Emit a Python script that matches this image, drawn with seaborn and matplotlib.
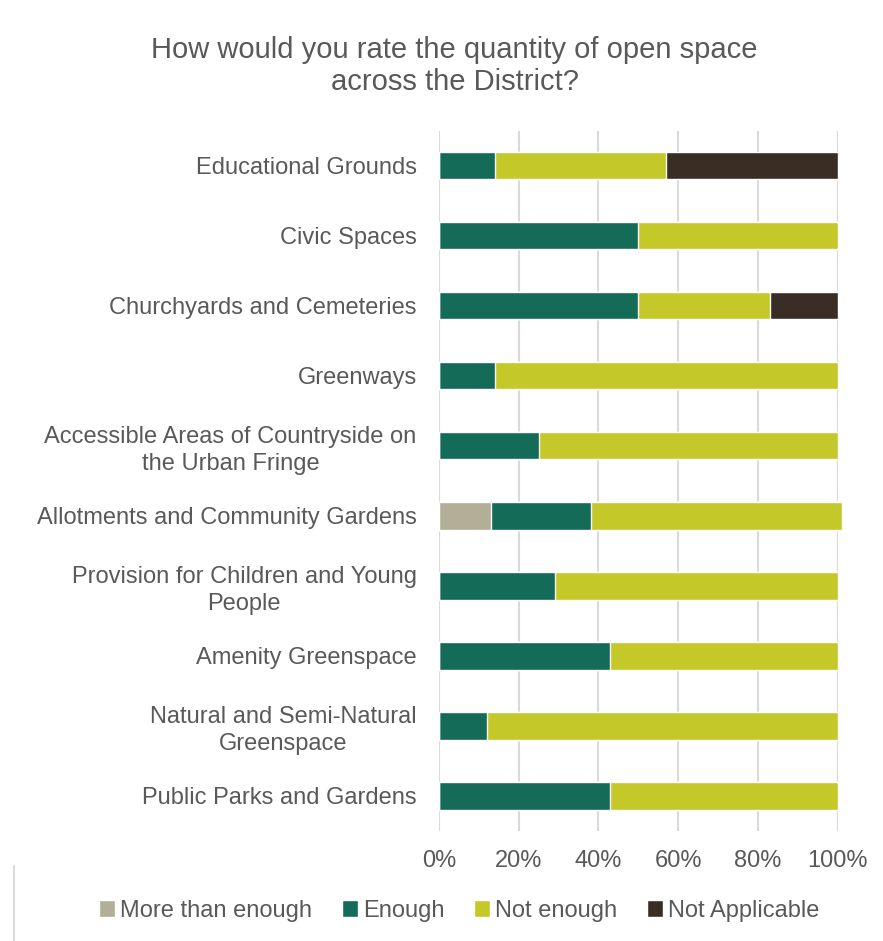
import pandas as pd
import seaborn as sns
import matplotlib.pyplot as plt
from matplotlib.patches import Patch
from matplotlib.ticker import PercentFormatter

# Dados
categorias = ['Educational Grounds', 'Civic Spaces', 'Churchyards and Cemeteries', 'Greenways',
              'Accessible Areas of Countryside on\nthe Urban Fringe', 'Allotments and Community Gardens',
              'Provision for Children and Young\nPeople', 'Amenity Greenspace',
              'Natural and Semi-Natural\nGreenspace', 'Public Parks and Gardens']
mais_que_suficiente = [0, 0, 0, 0, 0, 13, 0, 0, 0, 0]
suficiente = [14, 50, 50, 14, 25, 25, 29, 43, 12, 43]
insuficiente = [43, 50, 33, 86, 75, 63, 71, 57, 88, 57]
nao_aplicavel = [43, 0, 17, 0, 0, 0, 0, 0, 0, 0]

series = ['More than enough', 'Enough', 'Not enough', 'Not Applicable']
cores = ['#B3AE98', '#136B58', '#C4C828', '#3A2D24']
cinza = '#595959'

df = pd.DataFrame({'Categoria': categorias, 'More than enough': mais_que_suficiente,
                   'Enough': suficiente, 'Not enough': insuficiente,
                   'Not Applicable': nao_aplicavel}).set_index('Categoria')
acumulado = df[series].cumsum(axis=1) / 100

sns.set_style('white')
plt.rcParams['font.family'] = ['Liberation Sans', 'DejaVu Sans']

fig = plt.figure(figsize=(8.83, 9.41), dpi=100)
ax = fig.add_axes([0.497, 0.117, 0.452, 0.744])

# barras empilhadas: desenha do total para o primeiro
for serie, cor in reversed(list(zip(series, cores))):
    sns.barplot(x=acumulado[serie].values, y=acumulado.index, color=cor, width=0.39,
                orient='h', ax=ax, zorder=3, saturation=1)
for p in ax.patches:
    p.set_clip_on(False)

ax.set_xlim(0, 1.0)
ax.set_xticks([0, 0.2, 0.4, 0.6, 0.8, 1.0])
ax.xaxis.set_major_formatter(PercentFormatter(1.0, decimals=0))
ax.grid(axis='x', color='#D9D9D9', linewidth=1.5, zorder=0)
for s in ax.spines.values():
    s.set_visible(False)
ax.set_xlabel('')
ax.set_ylabel('')
ax.tick_params(axis='both', length=0, labelsize=17, labelcolor=cinza)
ax.tick_params(axis='x', pad=14)
ax.tick_params(axis='y', pad=16)
for lbl in ax.get_yticklabels():
    lbl.set_multialignment('center')
    lbl.set_linespacing(1.3)

fig.suptitle('How would you rate the quantity of open space\nacross the District?',
             x=0.515, y=0.962, fontsize=21, color=cinza, linespacing=1.2)

handles = [Patch(facecolor=c, label=s) for s, c in zip(series, cores)]
fig.legend(handles=handles, loc='center', bbox_to_anchor=(0.52, 0.032), ncol=4, frameon=False,
           fontsize=17, labelcolor=cinza, handlelength=0.7, handleheight=0.7,
           handletextpad=0.2, columnspacing=1.25)

fig.add_artist(plt.Line2D([0.016, 0.016], [0, 0.08], color='#D9D9D9', linewidth=1.5))

plt.savefig('out.png', dpi=100)
